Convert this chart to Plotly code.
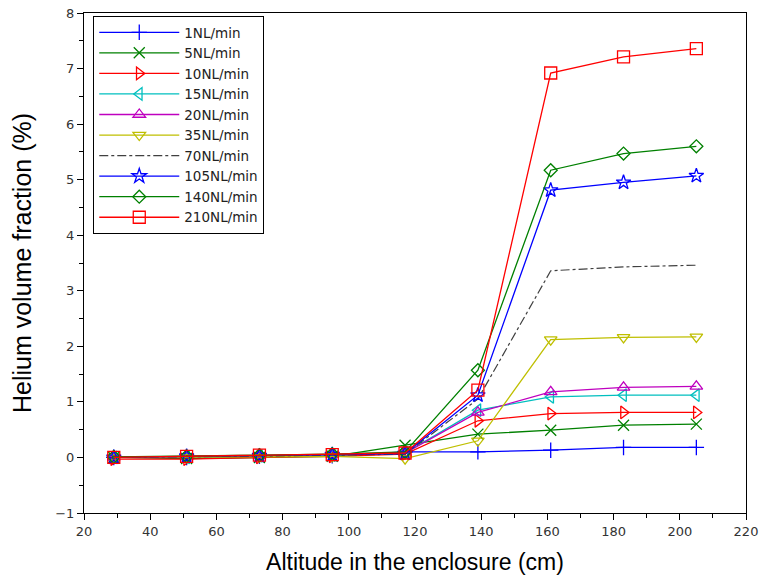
import plotly.graph_objects as go

altitude = [29, 51, 73, 95, 117, 139, 161, 183, 205]

series_names = ["1NL/min", "5NL/min", "10NL/min", "15NL/min", "20NL/min",
                "35NL/min", "70NL/min", "105NL/min", "140NL/min", "210NL/min"]

v1 = [0.00, 0.00, 0.02, 0.03, 0.10, 0.10, 0.13, 0.18, 0.18]
v5 = [0.00, -0.02, 0.00, 0.02, 0.22, 0.42, 0.49, 0.58, 0.60]
v10 = [-0.03, -0.03, 0.00, 0.02, 0.06, 0.66, 0.79, 0.81, 0.81]
v15 = [0.00, 0.00, 0.03, 0.04, 0.08, 0.85, 1.09, 1.12, 1.12]
v20 = [0.00, 0.01, 0.03, 0.05, 0.08, 0.81, 1.18, 1.26, 1.28]
v35 = [0.00, 0.00, 0.01, 0.02, -0.02, 0.30, 2.12, 2.16, 2.17]
v70 = [0.00, 0.01, 0.02, 0.04, 0.06, 1.05, 3.36, 3.43, 3.46]
v105 = [0.00, 0.02, 0.03, 0.05, 0.07, 1.12, 4.81, 4.95, 5.07]
v140 = [0.01, 0.02, 0.04, 0.06, 0.10, 1.57, 5.17, 5.47, 5.60]
v210 = [0.00, 0.02, 0.04, 0.05, 0.08, 1.21, 6.92, 7.21, 7.36]

values = [v1, v5, v10, v15, v20, v35, v70, v105, v140, v210]
colors = ["#0000ff", "#008000", "#ff0000", "#00bfbf", "#bf00bf",
          "#bfbf00", "#404040", "#0000ff", "#008000", "#ff0000"]
symbols = ["cross-thin-open", "x-thin-open", "triangle-right-open",
           "triangle-left-open", "triangle-up-open", "triangle-down-open",
           None, "star-open", "diamond-open", "square-open"]
sizes = [11, 11, 11, 11, 11, 11, 0, 11, 10, 12]

fig = go.Figure()
for name, vals, col, sym, sz in zip(series_names, values, colors, symbols, sizes):
    if sym is None:
        fig.add_trace(go.Scatter(
            x=altitude, y=vals, name=name, mode="lines",
            line=dict(color=col, width=1.2, dash="dashdot")))
    else:
        fig.add_trace(go.Scatter(
            x=altitude, y=vals, name=name, mode="lines+markers",
            line=dict(color=col, width=1.3),
            marker=dict(symbol=sym, size=sz, color=col,
                        line=dict(color=col, width=1.3))))

tickfont = dict(family="DejaVu Sans", size=13, color="#333333")
fig.update_layout(
    width=762, height=576,
    margin=dict(l=84, r=16, t=13, b=63),
    paper_bgcolor="white", plot_bgcolor="white",
    font=dict(family="DejaVu Sans", color="black"),
    showlegend=True,
    legend=dict(x=0.014, y=0.994, xanchor="left", yanchor="top",
                bgcolor="white", bordercolor="black", borderwidth=1,
                font=dict(family="DejaVu Sans", size=13.5, color="#222222"),
                tracegroupgap=0, itemwidth=80),
    xaxis=dict(range=[20, 220], dtick=20, tick0=20, showgrid=False,
               zeroline=False, showline=True, linecolor="black", linewidth=1,
               mirror=True, ticks="outside", ticklen=6, tickcolor="black",
               tickfont=tickfont, automargin=False,
               minor=dict(dtick=10, ticks="outside", ticklen=4, tickcolor="black"),
               title=dict(text="Altitude in the enclosure (cm)",
                          font=dict(family="Liberation Sans", size=23, color="black"),
                          standoff=16)),
    yaxis=dict(range=[-1, 8], dtick=1, showgrid=False,
               zeroline=False, showline=True, linecolor="black", linewidth=1,
               mirror=True, ticks="outside", ticklen=6, tickcolor="black",
               tickfont=tickfont, automargin=False,
               minor=dict(dtick=0.5, ticks="outside", ticklen=4, tickcolor="black"),
               title=dict(text="Helium volume fraction (%)",
                          font=dict(family="Liberation Sans", size=25, color="black"),
                          standoff=16)),
)

fig.write_html("out.html", config={"displayModeBar": False},
               post_script="document.body.style.margin='0';document.body.style.overflow='hidden';")
